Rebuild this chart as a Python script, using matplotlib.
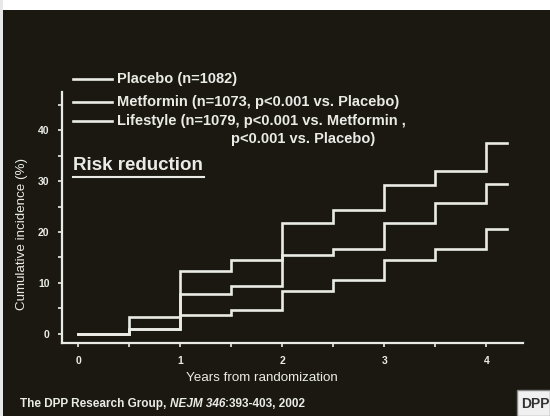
import numpy as np
import matplotlib
matplotlib.use("Agg")
import matplotlib.pyplot as plt
from matplotlib.lines import Line2D
from matplotlib.patches import Rectangle
from matplotlib.ticker import MultipleLocator

# step times (years) and cumulative incidence (%)
years = [0, 0.5, 1.0, 1.5, 2.0, 2.5, 3.0, 3.5, 4.0, 4.2]
placebo = [0, 3.4, 12.4, 14.6, 21.8, 24.4, 29.2, 32.0, 37.4, 37.4]
metformin = [0, 0.9, 7.8, 9.4, 15.5, 16.6, 21.8, 25.6, 29.5, 29.5]
lifestyle = [0, 0.9, 3.7, 4.6, 8.5, 10.6, 14.5, 16.6, 20.5, 20.5]

legend_labels = ["Placebo (n=1082)",
                 "Metformin (n=1073, p<0.001 vs. Placebo)",
                 "Lifestyle (n=1079, p<0.001 vs. Metformin ,"]
legend_cont = "p<0.001 vs. Placebo)"

BG = "#1b1812"
FG = "#ebebe6"
W, H = 550, 416

plt.rcParams['font.family'] = ['Liberation Sans', 'DejaVu Sans']

fig = plt.figure(figsize=(5.5, 4.16), dpi=100)
fig.patch.set_facecolor(BG)

def fx(px):
    return px / W

def fy(py):
    return 1 - py / H

# white margins of the slide scan
fig.patches.append(Rectangle((0, fy(10)), 1, 1 - fy(10), transform=fig.transFigure,
                             facecolor="white", edgecolor="none", zorder=0))
fig.patches.append(Rectangle((0, 0), fx(3), 1, transform=fig.transFigure,
                             facecolor="#e8e8e8", edgecolor="none", zorder=0))

ax = fig.add_axes([fx(62), fy(343), fx(523) - fx(62), fy(92) - fy(343)])
ax.set_facecolor(BG)
for s in ["top", "right"]:
    ax.spines[s].set_visible(False)
for s in ["left", "bottom"]:
    ax.spines[s].set_color(FG)
    ax.spines[s].set_linewidth(1.6)

for ys in (placebo, metformin, lifestyle):
    ax.step(years, ys, where="post", color=FG, lw=1.9, solid_joinstyle="miter")

ax.set_xlim(-0.16, 4.36)
ax.set_ylim(-1.8, 47.5)
ax.xaxis.set_major_locator(MultipleLocator(1))
ax.xaxis.set_minor_locator(MultipleLocator(0.5))
ax.yaxis.set_major_locator(MultipleLocator(10))
ax.yaxis.set_minor_locator(MultipleLocator(5))
ax.set_yticks([0, 10, 20, 30, 40])
ax.tick_params(which="both", colors=FG, direction="out", length=3, width=1.2,
               labelsize=7.5, pad=6)
for lab in ax.get_xticklabels() + ax.get_yticklabels():
    lab.set_fontweight("bold")

# axis titles placed in figure pixels
fig.text(fx(262), fy(378), "Years from randomization", color=FG, fontsize=9.6,
         ha="center", va="center")
fig.text(fx(22), fy(234), "Cumulative incidence (%)", color=FG, fontsize=9.6,
         ha="center", va="center", rotation=90)

# legend drawn by hand
for i, (py, txt) in enumerate(zip([79, 102, 121], legend_labels)):
    fig.lines.append(Line2D([fx(73), fx(112)], [fy(py), fy(py)], transform=fig.transFigure,
                            color=FG, lw=1.9))
    fig.text(fx(117), fy(py), txt, color=FG, fontsize=10.5, fontweight="bold",
             va="center", ha="left")
fig.text(fx(231), fy(139), legend_cont, color=FG, fontsize=10.5, fontweight="bold",
         va="center", ha="left")

fig.text(fx(73), fy(166), "Risk reduction", color=FG, fontsize=13.5, fontweight="bold",
         va="center", ha="left")
fig.lines.append(Line2D([fx(73), fx(204)], [fy(177), fy(177)], transform=fig.transFigure,
                        color=FG, lw=1.5))

# citation footer
renderer = fig.canvas.get_renderer()
x0 = fx(20)
for piece, style in [("The DPP Research Group, ", "normal"),
                     ("NEJM 346", "italic"),
                     (":393-403, 2002", "normal")]:
    t = fig.text(x0, fy(404), piece, color=FG, fontsize=8.5, fontweight="bold",
                 style=style, va="center", ha="left")
    bb = t.get_window_extent(renderer=renderer)
    x0 += bb.width / W

# DPP logo box
fig.patches.append(Rectangle((fx(517), 0), fx(550) - fx(517), fy(390), transform=fig.transFigure,
                             facecolor="#f0f0f0", edgecolor="#888888", lw=1, zorder=1))
fig.text(fx(521), fy(404), "DPP", color="#333333", fontsize=10, fontweight="bold",
         va="center", ha="left", zorder=2)

fig.savefig("out.png", dpi=100, facecolor=fig.get_facecolor())
